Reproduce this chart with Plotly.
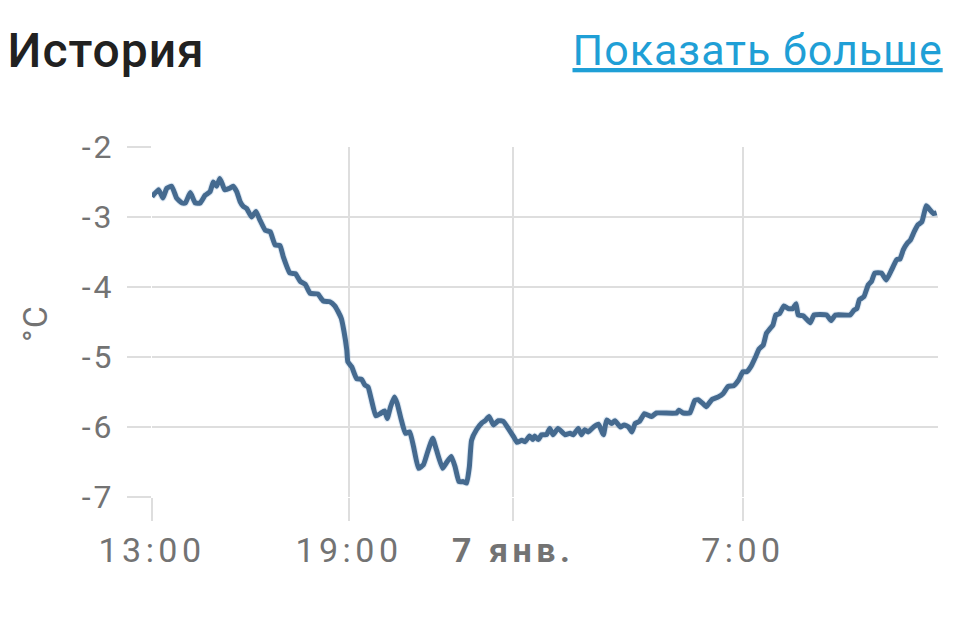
import plotly.graph_objects as go

# Temperature readings (time, °C)
times = [
    "2025-01-06 13:00", "2025-01-06 13:12", "2025-01-06 13:20", "2025-01-06 13:27", "2025-01-06 13:36",
    "2025-01-06 13:45", "2025-01-06 13:55", "2025-01-06 14:01", "2025-01-06 14:10", "2025-01-06 14:19",
    "2025-01-06 14:28", "2025-01-06 14:37", "2025-01-06 14:46", "2025-01-06 14:52", "2025-01-06 14:58",
    "2025-01-06 15:04", "2025-01-06 15:09", "2025-01-06 15:13", "2025-01-06 15:22", "2025-01-06 15:28",
    "2025-01-06 15:35", "2025-01-06 15:41", "2025-01-06 15:47", "2025-01-06 15:53", "2025-01-06 16:02",
    "2025-01-06 16:10", "2025-01-06 16:17", "2025-01-06 16:27", "2025-01-06 16:36", "2025-01-06 16:45",
    "2025-01-06 16:54", "2025-01-06 17:00", "2025-01-06 17:12", "2025-01-06 17:22", "2025-01-06 17:31",
    "2025-01-06 17:40", "2025-01-06 17:49", "2025-01-06 18:03", "2025-01-06 18:13", "2025-01-06 18:25",
    "2025-01-06 18:34", "2025-01-06 18:40", "2025-01-06 18:46", "2025-01-06 18:51", "2025-01-06 18:56",
    "2025-01-06 18:58", "2025-01-06 19:05", "2025-01-06 19:14", "2025-01-06 19:23", "2025-01-06 19:29",
    "2025-01-06 19:35", "2025-01-06 19:41", "2025-01-06 19:49", "2025-01-06 19:57", "2025-01-06 20:05",
    "2025-01-06 20:10", "2025-01-06 20:16", "2025-01-06 20:23", "2025-01-06 20:28", "2025-01-06 20:35",
    "2025-01-06 20:43", "2025-01-06 20:51", "2025-01-06 20:58", "2025-01-06 21:07", "2025-01-06 21:16",
    "2025-01-06 21:24", "2025-01-06 21:33", "2025-01-06 21:40", "2025-01-06 21:51", "2025-01-06 21:59",
    "2025-01-06 22:07", "2025-01-06 22:14", "2025-01-06 22:21", "2025-01-06 22:29", "2025-01-06 22:35",
    "2025-01-06 22:40", "2025-01-06 22:44", "2025-01-06 22:53", "2025-01-06 23:03", "2025-01-06 23:09",
    "2025-01-06 23:16", "2025-01-06 23:24", "2025-01-06 23:33", "2025-01-06 23:42", "2025-01-06 23:51",
    "2025-01-07 00:01", "2025-01-07 00:07", "2025-01-07 00:16", "2025-01-07 00:22", "2025-01-07 00:30",
    "2025-01-07 00:36", "2025-01-07 00:39", "2025-01-07 00:46", "2025-01-07 00:52", "2025-01-07 01:01",
    "2025-01-07 01:07", "2025-01-07 01:13", "2025-01-07 01:22", "2025-01-07 01:35", "2025-01-07 01:44",
    "2025-01-07 01:50", "2025-01-07 01:59", "2025-01-07 02:05", "2025-01-07 02:11", "2025-01-07 02:17",
    "2025-01-07 02:27", "2025-01-07 02:36", "2025-01-07 02:45", "2025-01-07 02:51", "2025-01-07 03:00",
    "2025-01-07 03:06", "2025-01-07 03:16", "2025-01-07 03:23", "2025-01-07 03:31", "2025-01-07 03:37",
    "2025-01-07 03:43", "2025-01-07 03:51", "2025-01-07 04:00", "2025-01-07 04:13", "2025-01-07 04:22",
    "2025-01-07 04:59", "2025-01-07 05:03", "2025-01-07 05:11", "2025-01-07 05:23", "2025-01-07 05:32",
    "2025-01-07 05:38", "2025-01-07 05:46", "2025-01-07 05:53", "2025-01-07 06:03", "2025-01-07 06:15",
    "2025-01-07 06:24", "2025-01-07 06:33", "2025-01-07 06:43", "2025-01-07 06:52", "2025-01-07 07:00",
    "2025-01-07 07:07", "2025-01-07 07:15", "2025-01-07 07:23", "2025-01-07 07:29", "2025-01-07 07:37",
    "2025-01-07 07:43", "2025-01-07 07:49", "2025-01-07 07:55", "2025-01-07 08:00", "2025-01-07 08:07",
    "2025-01-07 08:15", "2025-01-07 08:23", "2025-01-07 08:31", "2025-01-07 08:37", "2025-01-07 08:41",
    "2025-01-07 08:50", "2025-01-07 09:03", "2025-01-07 09:10", "2025-01-07 09:33", "2025-01-07 09:41",
    "2025-01-07 09:49", "2025-01-07 10:16", "2025-01-07 10:23", "2025-01-07 10:28", "2025-01-07 10:33",
    "2025-01-07 10:41", "2025-01-07 10:49", "2025-01-07 10:55", "2025-01-07 11:01", "2025-01-07 11:13",
    "2025-01-07 11:22", "2025-01-07 11:32", "2025-01-07 11:41", "2025-01-07 11:47", "2025-01-07 11:53",
    "2025-01-07 12:00", "2025-01-07 12:06", "2025-01-07 12:13", "2025-01-07 12:20", "2025-01-07 12:27",
    "2025-01-07 12:35", "2025-01-07 12:42", "2025-01-07 12:48", "2025-01-07 12:54",
]
temps = [
    -2.71, -2.61, -2.73, -2.59, -2.56,
    -2.73, -2.80, -2.80, -2.65, -2.80,
    -2.80, -2.69, -2.64, -2.50, -2.56,
    -2.45, -2.54, -2.61, -2.59, -2.56,
    -2.64, -2.78, -2.85, -2.88, -3.00,
    -2.92, -3.04, -3.19, -3.21, -3.40,
    -3.41, -3.57, -3.80, -3.81, -3.92,
    -3.96, -4.09, -4.10, -4.20, -4.21,
    -4.27, -4.35, -4.45, -4.64, -4.90,
    -5.07, -5.14, -5.31, -5.32, -5.40,
    -5.43, -5.61, -5.84, -5.81, -5.77,
    -5.88, -5.71, -5.57, -5.66, -5.88,
    -6.09, -6.07, -6.28, -6.59, -6.54,
    -6.35, -6.16, -6.33, -6.59, -6.50,
    -6.42, -6.57, -6.78, -6.78, -6.80,
    -6.57, -6.19, -6.04, -5.94, -5.91,
    -5.85, -5.97, -5.91, -5.92, -6.02,
    -6.14, -6.22, -6.19, -6.21, -6.13,
    -6.18, -6.13, -6.18, -6.11, -6.11,
    -6.02, -6.11, -6.02, -6.11, -6.09,
    -6.11, -6.02, -6.11, -6.04, -6.07,
    -6.00, -5.96, -6.11, -5.90, -5.95,
    -5.91, -6.00, -5.97, -6.00, -6.07,
    -5.95, -5.92, -5.81, -5.85, -5.80,
    -5.80, -5.76, -5.80, -5.80, -5.62,
    -5.61, -5.66, -5.71, -5.61, -5.57,
    -5.52, -5.42, -5.41, -5.33, -5.21,
    -5.21, -5.13, -5.00, -4.89, -4.83,
    -4.66, -4.60, -4.54, -4.40, -4.38,
    -4.27, -4.31, -4.31, -4.24, -4.40,
    -4.41, -4.51, -4.40, -4.40, -4.48,
    -4.40, -4.40, -4.33, -4.31, -4.18,
    -4.14, -3.97, -3.92, -3.80, -3.80,
    -3.90, -3.75, -3.61, -3.60, -3.47,
    -3.38, -3.33, -3.21, -3.11, -3.07,
    -2.84, -2.90, -2.95, -2.94,
]

x_tick_vals = ["2025-01-06 13:00", "2025-01-06 19:00", "2025-01-07 00:00", "2025-01-07 07:00"]
x_tick_text = ["13:00", "19:00", "<b>7 янв.</b>", "7:00"]
y_tick_vals = [-7, -6, -5, -4, -3, -2]
y_tick_text = ["-7", "-6", "-5", "-4", "-3", "-2"]
x_range = ["2025-01-06 13:00", "2025-01-07 12:56:30"]
y_range = [-7, -2]

title_text = "История"
link_text = "Показать больше"
y_unit = "°C"

GRID = "#dedede"
TICKFONT = dict(family="Roboto", size=34, color="#737373")

fig = go.Figure()
fig.add_trace(go.Scatter(
    x=times, y=temps, mode="lines",
    line=dict(color="rgba(130,170,210,0.25)", width=7, shape="spline", smoothing=0.4),
    hoverinfo="skip", showlegend=False,
))
fig.add_trace(go.Scatter(
    x=times, y=temps, mode="lines",
    line=dict(color="#456a8f", width=5, shape="spline", smoothing=0.4),
    showlegend=False,
))

# page body has an 8px margin; figure is sized/margined so the plot area lands at x 152-938, y 147-497
fig.update_layout(
    width=951, height=614,
    margin=dict(l=144, r=21, t=139, b=125),
    paper_bgcolor="white", plot_bgcolor="white",
    font=dict(family="Roboto"),
    xaxis=dict(
        type="date", range=x_range,
        tickvals=x_tick_vals, ticktext=x_tick_text,
        showgrid=True, gridcolor=GRID, gridwidth=2,
        ticks="outside", ticklen=23, tickwidth=2, tickcolor=GRID,
        tickfont=TICKFONT, zeroline=False, showline=False,
        ticklabelstandoff=0,
    ),
    yaxis=dict(
        range=y_range, tickvals=y_tick_vals, ticktext=y_tick_text,
        showgrid=True, gridcolor=GRID, gridwidth=2,
        ticks="outside", ticklen=24, tickwidth=2, tickcolor=GRID,
        tickfont=dict(family="Roboto", size=32, color="#737373"),
        zeroline=False, showline=False,
        ticklabelstandoff=6,
    ),
    annotations=[
        dict(text=title_text, xref="paper", yref="paper",
             x=(9 - 152) / 786, y=(497 - 50) / 350, xanchor="left", yanchor="middle",
             showarrow=False, font=dict(family="Roboto", size=48, color="#212121", weight=500)),
        dict(text=link_text, xref="paper", yref="paper",
             x=(937 - 152) / 786, y=(497 - 50) / 350, xanchor="right", yanchor="middle",
             showarrow=False, font=dict(family="Roboto", size=43, color="#1f9fd6", lineposition="under")),
        dict(text=y_unit, xref="paper", yref="paper",
             x=(35 - 152) / 786, y=(497 - 324) / 350, xanchor="center", yanchor="middle",
             textangle=-90, showarrow=False, font=dict(family="Roboto", size=34, color="#737373")),
    ],
)

post = """
var s = document.createElement('style');
s.textContent = '.xtick text{letter-spacing:4.5px} .ytick text{letter-spacing:3px} .annotation-text{letter-spacing:1px}';
document.head.appendChild(s);
"""
fig.write_html("out.html", post_script=post)
